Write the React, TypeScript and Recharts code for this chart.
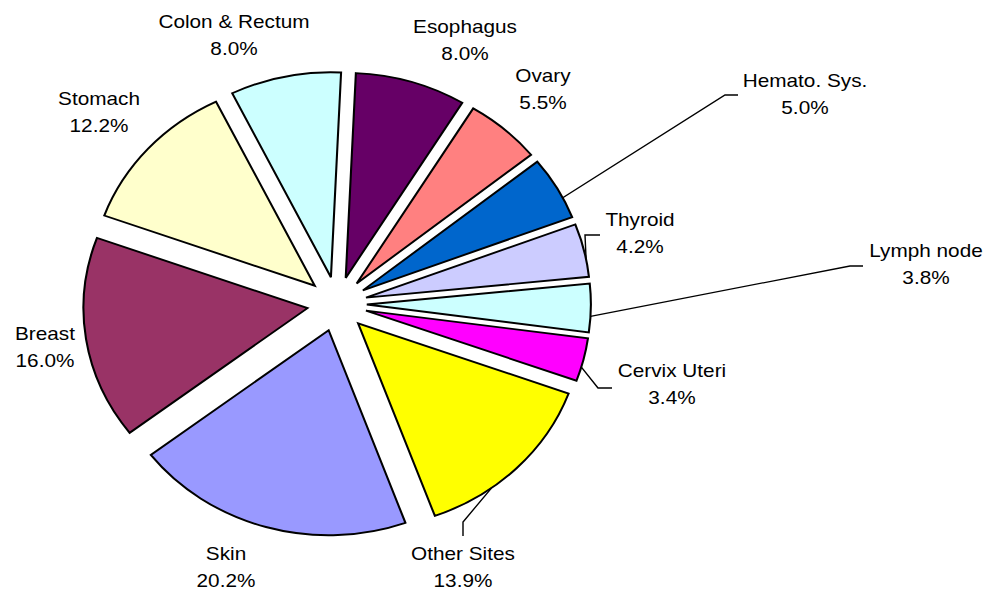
import React from "react"
import { PieChart, Pie, Sector } from "recharts"

// Slices in clockwise order starting just right of 12 o'clock
const SITES = [
  "Esophagus",
  "Ovary",
  "Hemato. Sys.",
  "Thyroid",
  "Lymph node",
  "Cervix Uteri",
  "Other Sites",
  "Skin",
  "Breast",
  "Stomach",
  "Colon & Rectum",
]
const SHARES = [8.0, 5.5, 5.0, 4.2, 3.8, 3.4, 13.9, 20.2, 16.0, 12.2, 8.0]
const COLORS = [
  "#660066",
  "#ff8080",
  "#0066cc",
  "#ccccff",
  "#ccffff",
  "#ff00ff",
  "#ffff00",
  "#9999ff",
  "#993366",
  "#ffffcc",
  "#ccffff",
]

// label layout, in page px: centre x, first-line baseline
const LABEL_AT: [number, number][] = [
  [465, 33],
  [543, 82],
  [805, 87],
  [640, 226],
  [926, 257],
  [672, 377],
  [463, 560],
  [226, 560],
  [45, 340],
  [99, 105],
  [234, 28],
]
// leader line elbows (page px), null = no leader
const LEADERS: ([number, number][] | null)[] = [
  null,
  null,
  [[725, 95], [738, 95]],
  [[585, 235], [600, 235]],
  [[850, 266], [863, 266]],
  [[598, 388], [612, 388]],
  [[463, 522], [463, 536]],
  null,
  null,
  null,
  null,
]

// the original is stretched sideways a little, so the whole chart is too
const SX = 1.093
const W = 992
const H = 594
const START = 87.4
const EXPLODE = 27.3
const LEADER_FRAC = 0.67
const RAD = Math.PI / 180

const data = SITES.map((name, i) => ({ name, value: SHARES[i] }))

function polar(cx: number, cy: number, r: number, angle: number) {
  return [cx + r * Math.cos(-angle * RAD), cy + r * Math.sin(-angle * RAD)]
}

function renderSlice(p: any) {
  const { cx, cy, outerRadius, startAngle, endAngle, midAngle, index, value } = p
  const [ex, ey] = polar(cx, cy, EXPLODE, midAngle)
  const [lx, ly] = LABEL_AT[index]
  const leader = LEADERS[index]
  let pts = ""
  if (leader) {
    const a = startAngle + LEADER_FRAC * (endAngle - startAngle)
    const [sx, sy] = polar(ex, ey, outerRadius, a)
    pts = [[sx, sy], ...leader.map(([x, y]) => [x / SX, y])]
      .map(([x, y]) => `${x},${y}`)
      .join(" ")
  }
  return (
    <g>
      <Sector
        cx={ex}
        cy={ey}
        innerRadius={0}
        outerRadius={outerRadius}
        startAngle={startAngle}
        endAngle={endAngle}
        fill={COLORS[index]}
        stroke="#000"
        strokeWidth={1.9}
        strokeLinejoin="miter"
      />
      {leader && <polyline points={pts} fill="none" stroke="#000" strokeWidth={1.3} />}
      <text
        x={lx / SX}
        y={ly}
        textAnchor="middle"
        fontFamily="'Liberation Sans', Arial, sans-serif"
        fontSize={19}
        fill="#000"
      >
        <tspan x={lx / SX}>{SITES[index]}</tspan>
        <tspan x={lx / SX} dy={27}>{`${Number(value).toFixed(1)}%`}</tspan>
      </text>
    </g>
  )
}

export default function App() {
  return (
    <div
      style={{
        position: "absolute",
        left: 0,
        top: 0,
        width: W / SX,
        height: H,
        background: "#fff",
        transform: `scaleX(${SX})`,
        transformOrigin: "0 0",
      }}
    >
      <PieChart width={W / SX} height={H} margin={{ top: 0, right: 0, bottom: 0, left: 0 }}>
        <Pie
          data={data}
          dataKey="value"
          nameKey="name"
          cx={337 / SX}
          cy={304}
          innerRadius={0}
          outerRadius={205}
          startAngle={START}
          endAngle={START - 360}
          fill="none"
          stroke="none"
          label={renderSlice}
          labelLine={false}
          isAnimationActive={false}
        />
      </PieChart>
    </div>
  )
}
